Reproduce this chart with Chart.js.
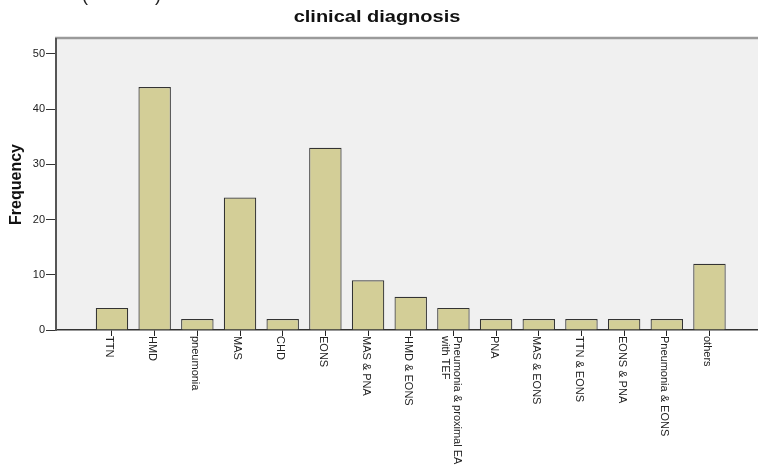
<!DOCTYPE html>
<html>
<head>
<meta charset="utf-8">
<script src="https://cdn.jsdelivr.net/npm/chart.js@4.4.1/dist/chart.umd.min.js"></script>
<style>
  html, body { margin: 0; padding: 0; background: #fff; }
  #wrap { width: 758px; height: 471px; position: relative; }
</style>
</head>
<body>
<div id="wrap"><canvas id="chart" width="758" height="471"></canvas></div>
<script>
var chartTitle = "clinical diagnosis";
var yTitle = "Frequency";
var diagnoses = ["TTN", "HMD", "pneumonia", "MAS", "CHD", "EONS", "MAS & PNA", "HMD & EONS",
  ["Pneumonia & proximal EA", "with TEF"], "PNA", "MAS & EONS", "TTN & EONS", "EONS & PNA",
  "Pneumonia & EONS", "others"];
var frequency = [4, 44, 2, 24, 2, 33, 9, 6, 4, 2, 2, 2, 2, 2, 12];
var yTicks = [0, 10, 20, 30, 40, 50];

var fontFamily = "'Liberation Sans', Arial, sans-serif";

// plot background + top frame line, then the hand drawn texts
var frame = {
  id: "frame",
  beforeDraw: (chart) => {
    var ctx = chart.ctx, a = chart.chartArea;
    ctx.save();
    ctx.fillStyle = "#f0f0f0";
    ctx.fillRect(a.left, a.top, a.right - a.left, a.bottom - a.top);
    ctx.strokeStyle = "#9a9a9a";
    ctx.lineWidth = 2.5;
    ctx.beginPath();
    ctx.moveTo(a.left - 1, a.top - 1);
    ctx.lineTo(a.right, a.top - 1);
    ctx.stroke();
    ctx.restore();
  },
  afterDraw: (chart) => {
    var ctx = chart.ctx, xs = chart.scales.x, a = chart.chartArea;
    ctx.save();
    // category labels, turned clockwise
    ctx.fillStyle = "#222";
    ctx.font = "11px " + fontFamily;
    ctx.textAlign = "left";
    ctx.textBaseline = "middle";
    for (var i = 0; i < diagnoses.length; i++) {
      var lines = Array.isArray(diagnoses[i]) ? diagnoses[i] : [diagnoses[i]];
      var px = xs.getPixelForValue(i) - 2.5;
      ctx.save();
      ctx.translate(px, a.bottom + 6);
      ctx.rotate(Math.PI / 2);
      for (var j = 0; j < lines.length; j++) {
        ctx.fillText(lines[j], 0, (j - (lines.length - 1) / 2) * 12);
      }
      ctx.restore();
    }
    // title
    ctx.save();
    ctx.fillStyle = "#111";
    ctx.font = "bold 16px " + fontFamily;
    ctx.textAlign = "center";
    ctx.textBaseline = "alphabetic";
    ctx.translate(chart.width / 2 - 2, 22);
    ctx.scale(1.25, 1);
    ctx.fillText(chartTitle, 0, 0);
    ctx.restore();
    // cut-off brackets at the very top
    ctx.fillStyle = "#222";
    ctx.font = "18px " + fontFamily;
    ctx.textAlign = "center";
    ctx.textBaseline = "alphabetic";
    ctx.fillText("(", 85, 1);
    ctx.fillText(")", 158, 1);
    ctx.restore();
  }
};

var ctx = document.getElementById("chart").getContext("2d");
var chart = new Chart(ctx, {
  type: "bar",
  data: {
    datasets: [{
      data: frequency.map((v, i) => ({x: i, y: v})),
      backgroundColor: "#d3ce97",
      borderColor: "#333333",
      borderWidth: 1.2,
      barPercentage: 0.76,
      categoryPercentage: 1
    }]
  },
  options: {
    responsive: false,
    animation: false,
    layout: {padding: {top: 39, right: 0, left: 0, bottom: 0}},
    plugins: {
      legend: {display: false},
      tooltip: {enabled: false},
      title: {display: false}
    },
    scales: {
      x: {
        type: "linear",
        offset: false,
        min: -1.312,
        max: 15.137,
        afterBuildTicks: (scale) => { scale.ticks = diagnoses.map((d, i) => ({value: i})); },
        afterFit: (scale) => { scale.height = 141; },
        grid: {display: true, offset: false, drawOnChartArea: false, drawTicks: true, tickLength: 6, color: "#222", lineWidth: 1},
        border: {display: true, color: "#333", width: 1.5},
        ticks: {display: false}
      },
      y: {
        min: 0,
        max: 52.7,
        afterBuildTicks: (scale) => { scale.ticks = yTicks.map((v) => ({value: v})); },
        afterFit: (scale) => { scale.width = 56; },
        grid: {display: true, drawOnChartArea: false, drawTicks: true, tickLength: 10, color: "#333", lineWidth: 1},
        border: {display: true, color: "#555", width: 2},
        ticks: {font: {family: fontFamily, size: 11}, color: "#222", padding: 1},
        title: {display: true, text: yTitle, color: "#111",
          font: {family: fontFamily, size: 16, weight: "bold"}, padding: {top: 7, bottom: 0}}
      }
    }
  },
  plugins: [frame]
});
</script>
</body>
</html>
